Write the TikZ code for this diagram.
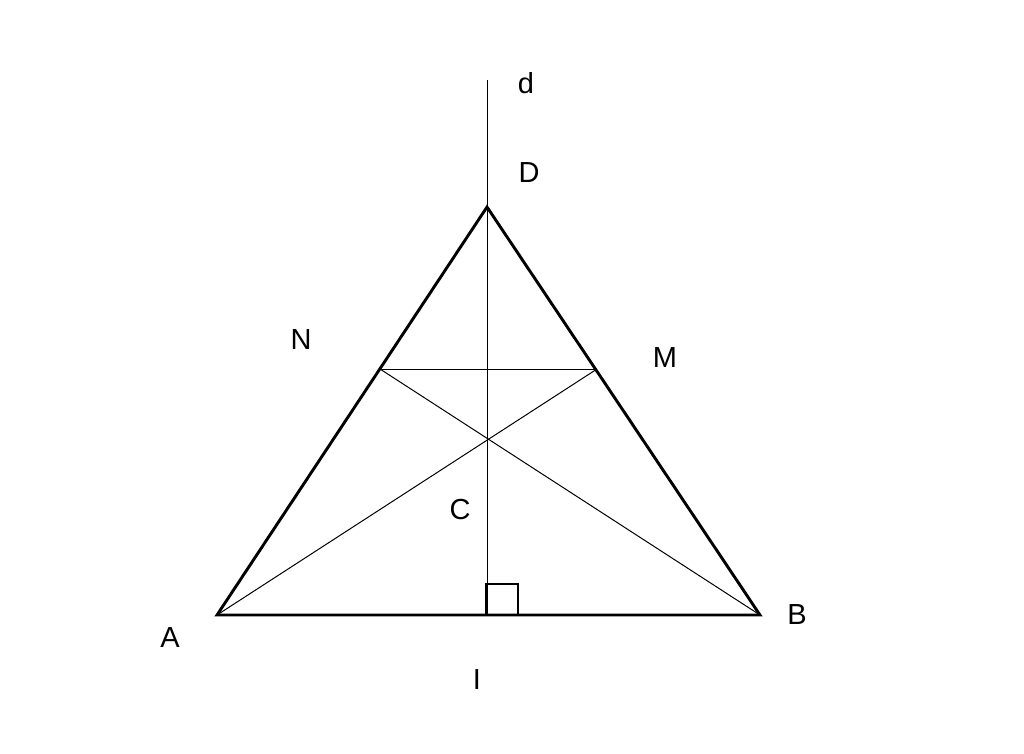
\documentclass[tikz,border=0pt]{standalone}
\usepackage{fontspec}
\setmainfont{Liberation Sans}
\begin{document}
\begin{tikzpicture}[x=1pt,y=-1pt,
  thick line/.style={line width=2.9pt,line join=miter},
  thin line/.style={line width=1pt},
  lbl/.style={font=\fontsize{29}{34}\selectfont,inner sep=0pt}]
\useasboundingbox (0,0) rectangle (1024,753);
\coordinate (A) at (217,615);
\coordinate (B) at (760,615);
\coordinate (D) at (487,207);
\coordinate (T) at (487,80);
\coordinate (I) at (487,615);
\coordinate (N) at (380,369);
\coordinate (M) at (597,369);
\coordinate (S1) at (486,584);
\coordinate (S2) at (518,615);
% thin lines
\draw[thin line] (T) -- (I);
\draw[thin line] (N) -- (M);
\draw[thin line] (N) -- (B);
\draw[thin line] (M) -- (A);
% triangle
\draw[thick line] (A) -- (D) -- (B) -- cycle;
% right angle mark
\draw[line width=2.7pt] (S1) rectangle (S2);
% labels
\node[lbl] (ld) at (526,83) {d};
\node[lbl] (lD) at (529,173) {D};
\node[lbl] (lN) at (301,340) {N};
\node[lbl] (lM) at (665,358) {M};
\node[lbl] (lC) at (460,510) {C};
\node[lbl] (lA) at (170,638) {A};
\node[lbl] (lB) at (797,615) {B};
\node[lbl] (lI) at (477,680) {I};
\end{tikzpicture}
\end{document}
